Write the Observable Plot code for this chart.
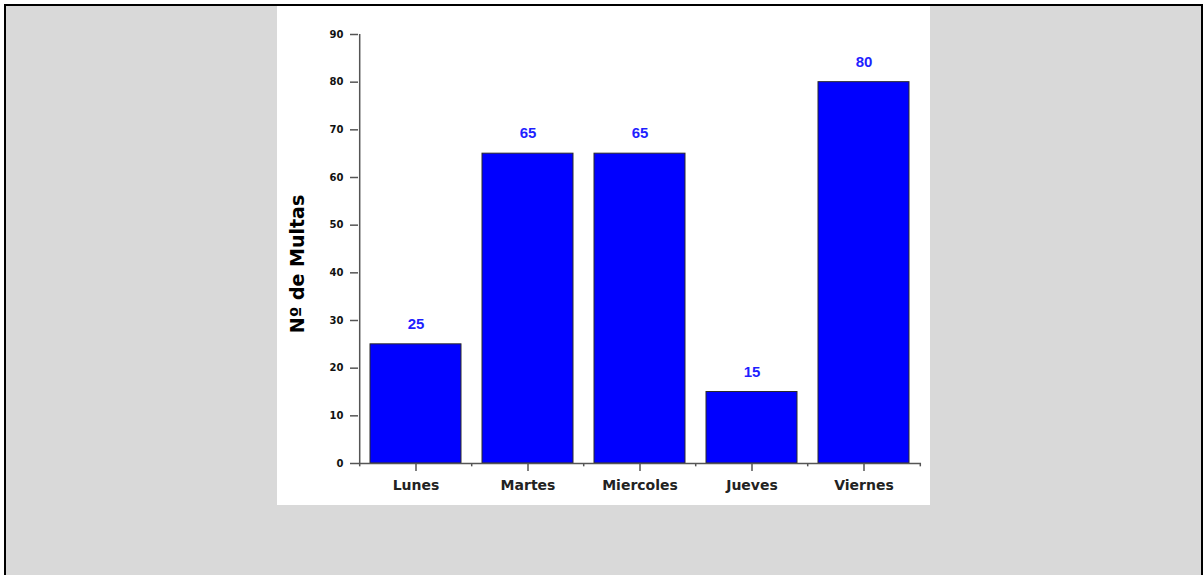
<!DOCTYPE html>
<html>
<head>
<meta charset="utf-8">
<script src="https://cdn.jsdelivr.net/npm/d3@7"></script>
<script src="https://cdn.jsdelivr.net/npm/@observablehq/plot@0.6"></script>
<style>
  html, body { margin: 0; padding: 0; background: #fff; }
  #frame {
    position: absolute; left: 4px; top: 4px;
    width: 1195px; height: 600px;
    border: 2px solid #000; border-bottom: none;
    background: #d9d9d9;
  }
  #panel {
    position: absolute; left: 271px; top: 0;
    width: 653px; height: 499px; background: #fff;
  }
  #panel svg { display: block; }
</style>
</head>
<body>
<div id="frame"><div id="panel"></div></div>
<script>
// Multas registradas por día de la semana
const days = ["Lunes", "Martes", "Miercoles", "Jueves", "Viernes"];
const fines = [25, 65, 65, 15, 80];
const yTicks = [0, 10, 20, 30, 40, 50, 60, 70, 80, 90];
const yTitle = "Nº de Multas";

const rows = days.map((day, i) => ({day, fines: fines[i]}));

const W = 653, H = 499;
const mL = 81, mR = 9, mT = 28, mB = 42;
const step = (W - mL - mR) / days.length; // band step, used to offset the separator ticks
const axisColor = "#555";
const font = "DejaVu Sans, Verdana, sans-serif";

const chart = Plot.plot({
  width: W,
  height: H,
  marginLeft: mL,
  marginRight: mR,
  marginTop: mT,
  marginBottom: mB,
  style: {background: "#fff", overflow: "visible"},
  x: {domain: days, paddingInner: 0.186, paddingOuter: 0.093, label: null},
  y: {domain: [0, 90], label: null},
  marks: [
    Plot.barY(rows, {x: "day", y: "fines", fill: "#0000ff", stroke: "#2a2a2a", strokeWidth: 1}),
    // axis lines
    Plot.ruleY([0], {stroke: axisColor, strokeWidth: 1.5}),
    Plot.ruleX([days[0]], {x: d => d, dx: -step / 2, y1: 0, y2: 90, stroke: axisColor, strokeWidth: 1.5}),
    // short separator ticks between categories
    Plot.ruleX(days, {x: d => d, dx: -step / 2, y1: 0, y2: -0.7, stroke: axisColor, strokeWidth: 1.5}),
    Plot.ruleX([days[days.length - 1]], {x: d => d, dx: step / 2, y1: 0, y2: -0.7, stroke: axisColor, strokeWidth: 1.5}),
    Plot.axisY({
      ticks: yTicks, tickSize: 8, tickPadding: 7, label: null,
      stroke: axisColor, strokeWidth: 1.5,
      fill: "#111", fontSize: 10, fontWeight: "bold", fontFamily: font
    }),
    Plot.axisX({
      tickSize: 8, tickPadding: 9, label: null,
      stroke: axisColor, strokeWidth: 1.5,
      fill: "#222", fontSize: 14, fontWeight: "bold", fontFamily: font
    }),
    // value labels above bars
    Plot.text(rows, {
      x: "day", y: "fines", text: d => String(d.fines), dy: -20,
      fill: "#1f1fff", fontSize: 15, fontWeight: "bold", fontFamily: "Liberation Sans, Arial, sans-serif"
    }),
    // y axis title
    Plot.text([yTitle], {
      text: d => d, frameAnchor: "left", textAnchor: "middle", rotate: -90, dx: -61, dy: 15,
      fill: "#000", fontSize: 19, fontWeight: "bold", fontFamily: font
    })
  ]
});

document.getElementById("panel").appendChild(chart);
</script>
</body>
</html>
